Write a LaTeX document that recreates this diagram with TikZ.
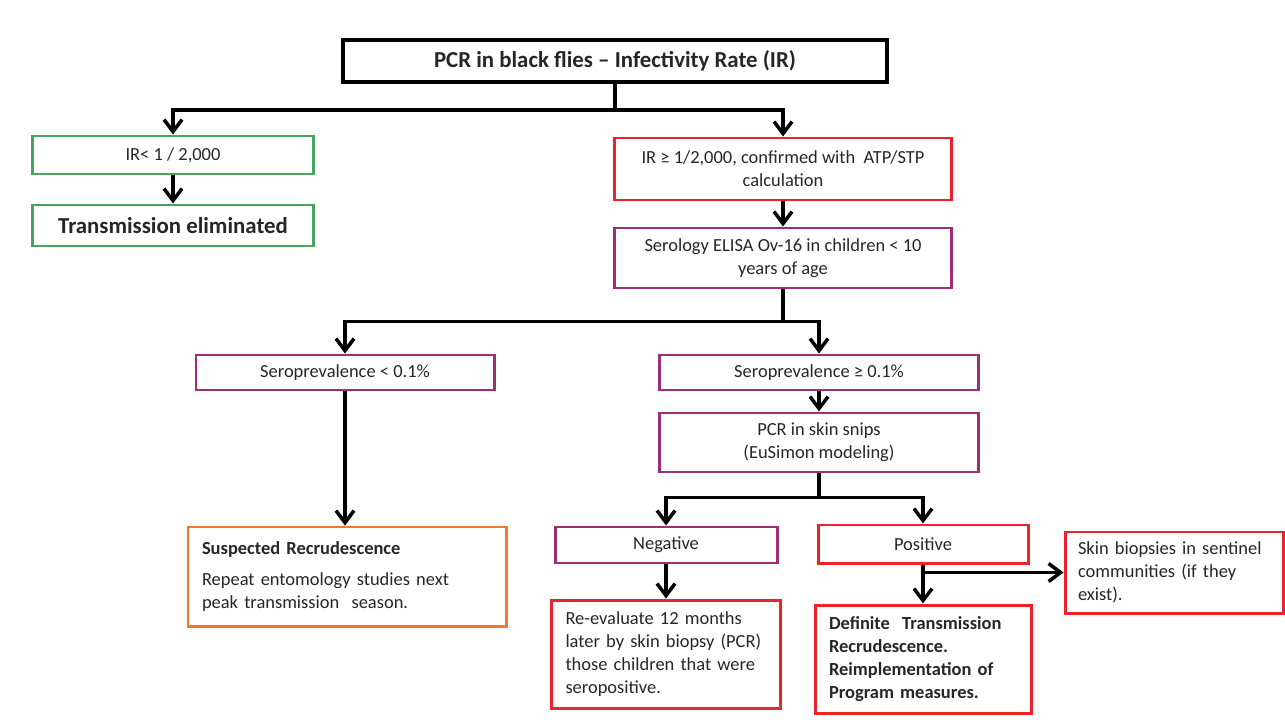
\documentclass[tikz,border=0pt]{standalone}
\usepackage{fontspec}
\setmainfont{Carlito}
\usepackage{tikz}
\usetikzlibrary{positioning, calc, arrows.meta}

\definecolor{boxgreen}{RGB}{70,165,95}
\definecolor{boxred}{RGB}{236,36,42}
\definecolor{boxpurple}{RGB}{160,45,120}
\definecolor{boxorange}{RGB}{240,120,50}

\begin{document}
\begin{tikzpicture}[>={Straight Barb[length=2.4mm,width=3.6mm]}, on grid,
				line width=2pt,
				box/.style={draw, line width=1.7pt, align=center, inner sep=2pt,
					text=black!85, font=\fontsize{10.5}{13}\selectfont},
				leftbox/.style={box, align=left, inner xsep=0.28cm},
				big/.style={font=\fontsize{13}{16}\selectfont\bfseries}]
				\useasboundingbox (0,0) rectangle (25.7,-14.38);
				
				%Caixas:
				\node[box, big, line width=2.4pt, minimum width=10.88cm, minimum height=0.84cm] (A) at (12.3,-1.22)
					{PCR in black flies – Infectivity Rate (IR)};
				\node[box, draw=boxgreen, minimum width=5.62cm, minimum height=0.76cm] (B) at (3.46,-3.1)
					{IR< 1 / 2,000};
				\node[box, big, draw=boxgreen, minimum width=5.62cm, minimum height=0.82cm] (C) [below=1.41cm of B]
					{Transmission eliminated};
				\node[box, draw=boxred, minimum width=6.74cm, minimum height=1.24cm] (D) at (15.66,-3.38)
					{IR ≥ 1/2,000, confirmed with~ ATP/STP\\calculation};
				\node[box, draw=boxpurple, minimum width=6.74cm, minimum height=1.2cm] (E) [below=1.78cm of D]
					{Serology ELISA Ov-16 in children < 10\\years of age};
				\node[box, draw=boxpurple, minimum width=5.96cm, minimum height=0.7cm] (F) at (6.9,-7.45)
					{Seroprevalence < 0.1\%};
				\node[box, draw=boxpurple, minimum width=6.38cm, minimum height=0.7cm] (G) at (16.38,-7.45)
					{Seroprevalence ≥ 0.1\%};
				\node[box, draw=boxpurple, minimum width=6.38cm, minimum height=1.18cm] (H) [below=1.4cm of G]
					{PCR in skin snips\\(EuSimon modeling)};
				\node[leftbox, draw=boxorange, text width=5.8cm, minimum height=1.98cm] (I) at (6.94,-11.53)
					{\textbf{Suspected Recrudescence}\\[0.16cm]Repeat entomology studies next\\peak transmission~ season.};
				\node[box, draw=boxpurple, minimum width=4.44cm, minimum height=0.72cm] (J) at (13.32,-10.9)
					{Negative};
				\node[box, draw=boxred, minimum width=4.2cm, minimum height=0.76cm] (K) at (18.46,-10.88)
					{Positive};
				\node[leftbox, draw=boxred, text width=4.02cm, minimum height=2.16cm] (L) [below=2.18cm of J]
					{Re-evaluate 12 months\\later by skin biopsy (PCR)\\those children that were\\seropositive.};
				\node[leftbox, draw=boxred, text width=3.76cm, minimum height=2.16cm, font=\fontsize{10.5}{13}\selectfont\bfseries] (M) [below=2.3cm of K]
					{Definite~ Transmission\\Recrudescence.\\Reimplementation of\\Program measures.};
				\node[leftbox, draw=boxred, text width=3.84cm, inner xsep=0.26cm, minimum height=1.62cm] (N) at (23.48,-11.45)
					{Skin biopsies in sentinel\\communities (if they\\exist).};
				
				%Setas:
				\draw[->] (A.south) -- ++(0,-0.52) -| (B.north);
				\draw[->] (A.south) -- ++(0,-0.52) -| (D.north);
				\draw[->] (B) -- (C);
				\draw[->] (D) -- (E);
				\draw[->] (E.south) -- ++(0,-0.64) -| (F.north);
				\draw[->] (E.south) -- ++(0,-0.64) -| (G.north);
				\draw[->] (G) -- (H);
				\draw[->] (F.south) -- (F.south |- I.north);
				\draw[->] (H.south) -- ++(0,-0.48) -| (J.north);
				\draw[->] (H.south) -- ++(0,-0.48) -| (K.north);
				\draw[->] (J) -- (L);
				\draw[->] (K.south) -- (K.south |- M.north);
				\draw[->] (K.south) |- (N.west);
			\end{tikzpicture}
\end{document}
